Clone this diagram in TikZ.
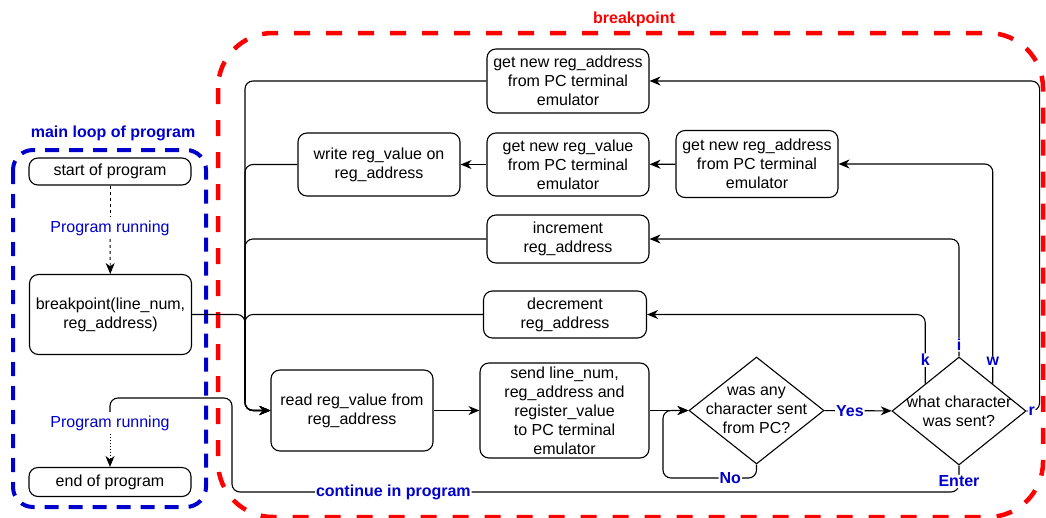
\documentclass[tikz,border=0pt]{standalone}
\usepackage{fontspec}
\setmainfont{Liberation Sans}
\usetikzlibrary{positioning, arrows.meta, shapes.geometric, calc}
\definecolor{lblblue}{RGB}{0,0,204}
\definecolor{brkred}{RGB}{255,0,0}
\newcommand{\basefont}{\fontsize{16}{19}\selectfont}

\begin{document}
\begin{tikzpicture}[
        x=1pt, y=-1pt,
        box/.style={draw, rectangle, rounded corners=9pt, line width=1.1pt, align=center, minimum width=162pt, inner sep=2pt},
        decision/.style={draw, diamond, line width=1.1pt, minimum width=135pt, minimum height=107pt, inner sep=0pt},
        arrow/.style={-{Stealth[length=11pt, width=9pt, inset=3.5pt]}, line width=1.1pt, rounded corners=8pt},
        link/.style={line width=1.1pt, rounded corners=8pt},
        lbl/.style={text=lblblue, font=\basefont\bfseries, fill=white, inner sep=1pt},
        note/.style={text=lblblue},
        font=\basefont
    ]
    \useasboundingbox (0,0) rectangle (1046,517);

    % Groups
    \draw[brkred, line width=4.5pt, dash pattern=on 16pt off 16pt, rounded corners=55pt] (218,33) rectangle (1043,517);
    \node[text=brkred, font=\basefont\bfseries] (brktitle) at (634,19) {breakpoint};
    \draw[lblblue, line width=4pt, dash pattern=on 14pt off 10pt, rounded corners=20pt] (13,150) rectangle (206,507);
    \node[text=lblblue, font=\basefont\bfseries] (looptitle) at (113,133) {main loop of program};

    % Main loop nodes
    \node[box, minimum height=27pt] (start) at (110,171.5) {start of program};
    \node[note] (runa) at (110,228) {Program running};
    \node[box, minimum height=80pt] (bp) at (110.5,314.5) {breakpoint(line\_num,\\reg\_address)};
    \node[note] (runb) at (110,423) {Program running};
    \node[box, minimum height=29pt] (endp) at (110,482) {end of program};

    % Breakpoint nodes
    \node[box, minimum height=64pt] (newaddr) at (568,81) {get new reg\_address\\from PC terminal\\emulator};
    \node[box, minimum height=63pt] (writeval) at (379,164.5) {write reg\_value on\\reg\_address};
    \node[box, minimum height=63pt] (newval) at (568,164.5) {get new reg\_value\\from PC terminal\\emulator};
    \node[box, minimum height=67pt] (newaddrw) at (757,164) {get new reg\_address\\from PC terminal\\emulator};
    \node[box, minimum height=48pt] (incaddr) at (568,239) {increment\\reg\_address};
    \node[box, minimum width=163pt, minimum height=47pt] (decaddr) at (565,314.5) {decrement\\reg\_address};
    \node[box, minimum height=81pt] (readval) at (352,410.5) {read reg\_value from\\reg\_address};
    \node[box, minimum width=169pt, minimum height=95pt, inner ysep=1pt] (sendval) at (564.5,410.5) {send line\_num,\\reg\_address and\\register\_value\\to PC terminal\\emulator};
    \node[decision, label={[align=center]center:was any\\character sent\\from PC?}] (anychar) at (756.5,410.5) {};
    \node[decision, minimum width=134pt, minimum height=108pt, label={[align=center]center:what character\\was sent?}] (whatchar) at (959,411) {};

    % Turning points
    \coordinate (bus) at (245,410.5);
    \coordinate (kout) at ($(whatchar.west)!0.5!(whatchar.north)$);
    \coordinate (wout) at ($(whatchar.north)!0.5!(whatchar.east)$);
    \coordinate (noturn) at (663,478);
    \coordinate (contturn) at (232,492);
    \coordinate (contup) at (110,398);

    % Program flow
    \draw[link, line width=0.9pt, dash pattern=on 3pt off 3pt] (start) -- (runa);
    \draw[arrow, line width=0.9pt, dash pattern=on 3pt off 3pt] (runa) -- (bp);
    \draw[arrow, line width=0.9pt, dash pattern=on 1.5pt off 1.5pt] (runb) -- (endp);

    % Into read and on to the PC
    \draw[arrow] (bp.east) -| (bus) -- (readval.west);
    \draw[arrow] (newaddr.west) -| (bus) -- (readval.west);
    \draw[arrow] (writeval.west) -| (bus) -- (readval.west);
    \draw[arrow] (incaddr.west) -| (bus) -- (readval.west);
    \draw[arrow] (decaddr.west) -| (bus) -- (readval.west);
    \draw[arrow] (readval) -- (sendval);
    \draw[arrow] (sendval) -- (anychar);
    \draw[arrow] (anychar) -- node[lbl, pos=0.38] {Yes} (whatchar);
    \draw[arrow] (anychar.south) |- node[lbl, pos=0.64] {No} (noturn) |- (anychar.west);

    % Character branches
    \draw[arrow] (kout) |- node[lbl, pos=0.17] {k} (decaddr.east);
    \draw[arrow] (whatchar.north) |- node[lbl, pos=0.05] {i} (incaddr.east);
    \draw[arrow] (wout) |- node[lbl, pos=0.05] {w} (newaddrw.east);
    \draw[arrow] (whatchar.east) -- node[lbl, pos=0.4] {r} ++(13,0) |- (newaddr.east);
    \draw[arrow] (newaddrw) -- (newval);
    \draw[arrow] (newval) -- (writeval);

    % Back to the program
    \draw[link] (whatchar.south) |- node[lbl, pos=0.3] {Enter} node[lbl, pos=0.889] {continue in program} (contturn) |- (contup) -- (runb.north);
\end{tikzpicture}
\end{document}
